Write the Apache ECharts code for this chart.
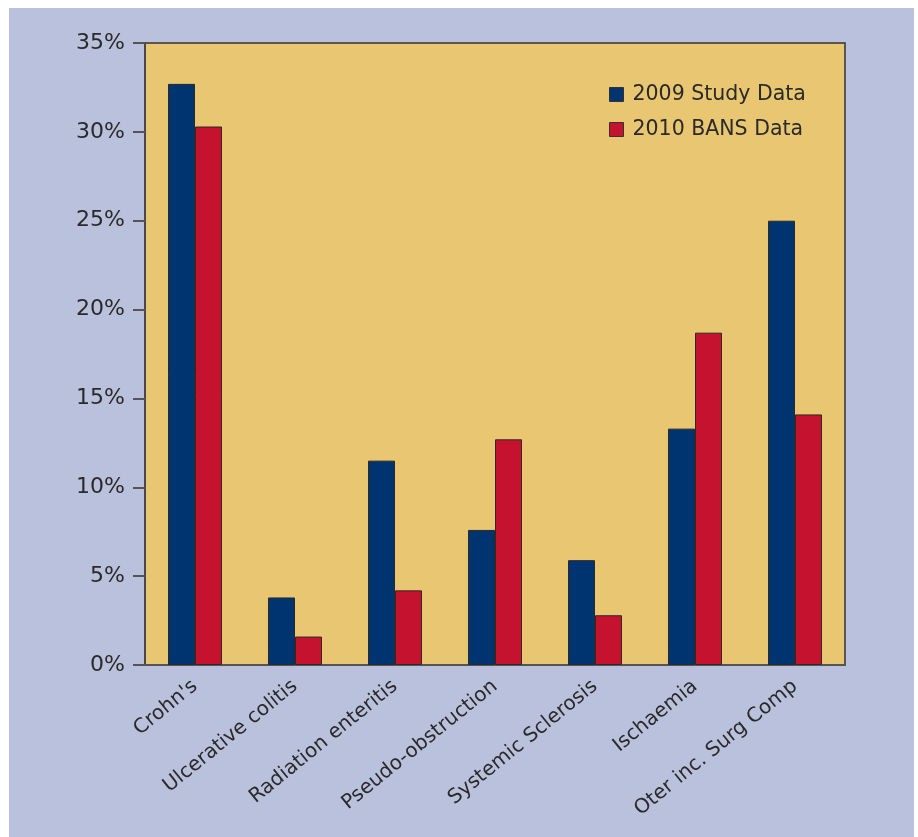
<!DOCTYPE html>
<html>
<head>
<meta charset="utf-8">
<script src="https://cdn.jsdelivr.net/npm/echarts@6/dist/echarts.min.js"></script>
<style>
	html, body { margin: 0; padding: 0; background: #ffffff; }
	#chart { position: absolute; left: 9px; top: 8px; width: 905px; height: 829px; background: #b9c1dc; }
</style>
</head>
<body>
<div id="chart"></div>
<script>
var categories = ["Crohn's", 'Ulcerative colitis', 'Radiation enteritis', 'Pseudo-obstruction', 'Systemic Sclerosis', 'Ischaemia', 'Oter inc. Surg Comp'];
var study2009 = [32.7, 3.8, 11.5, 7.6, 5.9, 13.3, 25.0];
var bans2010 = [30.3, 1.6, 4.2, 12.7, 2.8, 18.7, 14.1];
var yTicks = [0, 5, 10, 15, 20, 25, 30, 35];

var chart = echarts.init(document.getElementById('chart'));
var font = 'DejaVu Sans';

chart.setOption({
	animation: false,
	textStyle: { fontFamily: font },
	legend: {
		orient: 'vertical',
		left: 595,
		top: 71,
		itemWidth: 14,
		itemHeight: 14,
		itemGap: 14,
		icon: 'rect',
		textStyle: { fontSize: 20.5, color: '#2a2a2a', fontFamily: font, padding: [0, 0, 0, 4] },
		itemStyle: { borderColor: '#333', borderWidth: 1 },
		data: ['2009 Study Data', '2010 BANS Data']
	},
	grid: {
		left: 136,
		top: 35,
		width: 700,
		height: 622,
		show: true,
		backgroundColor: '#e8c672',
		borderColor: '#333',
		borderWidth: 1.5
	},
	xAxis: {
		type: 'category',
		data: categories,
		axisLine: { lineStyle: { color: '#555', width: 2 } },
		axisTick: { show: false },
		axisLabel: {
			rotate: 39,
			fontSize: 20,
			color: '#2a2a2a',
			margin: 19,
			interval: 0
		}
	},
	yAxis: {
		type: 'value',
		min: yTicks[0],
		max: yTicks[yTicks.length - 1],
		interval: 5,
		splitLine: { show: false },
		axisLine: { show: true, lineStyle: { color: '#444', width: 1.5 } },
		axisTick: { show: true, length: 12, lineStyle: { color: '#555', width: 2 } },
		axisLabel: {
			formatter: '{value}%',
			fontSize: 22,
			color: '#2a2a2a',
			margin: 20
		}
	},
	series: [
		{
			name: '2009 Study Data',
			type: 'bar',
			data: study2009,
			barWidth: 27,
			barGap: '0%',
			itemStyle: { color: '#003471', borderColor: '#2a2a2a', borderWidth: 1 }
		},
		{
			name: '2010 BANS Data',
			type: 'bar',
			data: bans2010,
			barWidth: 27,
			itemStyle: { color: '#c4122f', borderColor: '#2a2a2a', borderWidth: 1 }
		}
	]
});
</script>
</body>
</html>
